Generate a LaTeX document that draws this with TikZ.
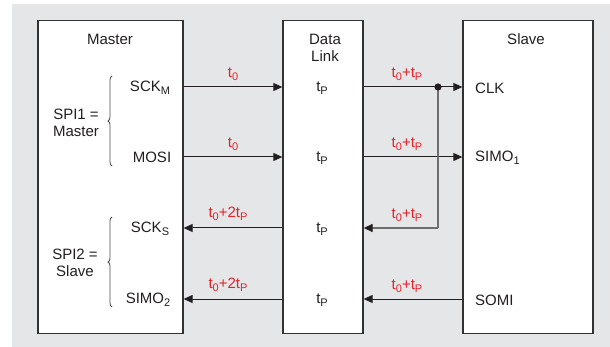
\documentclass[tikz,border=0pt]{standalone}
\usepackage{fontspec}
\setmainfont{Liberation Sans}
\usetikzlibrary{arrows.meta,decorations.pathreplacing}
\definecolor{bgray}{RGB}{229,230,232}
\definecolor{lred}{RGB}{232,32,40}
\definecolor{txt}{RGB}{35,31,32}
\definecolor{edge}{RGB}{50,50,50}
\definecolor{vline}{RGB}{110,110,110}
\newcommand\lowsb[1]{\raisebox{-0.22em}{\fontsize{11}{12}\selectfont #1}}
\tikzset{
  box/.style={draw=edge, line width=1.3pt, fill=white, inner sep=0pt, minimum width=#1},
  lbl/.style={text=txt, font=\fontsize{15}{17}\selectfont, inner sep=0pt},
  tlbl/.style={text=lred, font=\fontsize{15}{17}\selectfont, inner sep=0pt},
  arr/.style={draw=txt, line width=1pt, -{Triangle[length=9pt,width=8pt,color=txt]}},
  brc/.style={draw=txt!80, line width=0.8pt, decorate, decoration={brace, amplitude=4pt}},
}
\begin{document}
\begin{tikzpicture}[x=1pt,y=-1pt]
\useasboundingbox (0,0) rectangle (610,347);
\fill[bgray] (12,4) rectangle (611,348);
% boxes
\node[box=145pt, minimum height=313pt] (master) at (110.5,177) {};
\node[box=80pt, minimum height=313pt] (dl) at (323,177) {};
\node[box=130pt, minimum height=313pt] (slave) at (528,177) {};
% titles
\node[lbl] (mastert) at (110,39) {Master};
\node[lbl, align=center] (dlt) at (325,47.5) {Data\\Link};
\node[lbl] (slavet) at (526,39) {Slave};
% master signals
\node[lbl] (sckm) at (150,88) {SCK\lowsb{M}};
\node[lbl] (mosi) at (152,157) {MOSI};
\node[lbl] (scks) at (150,229) {SCK\lowsb{S}};
\node[lbl] (simo2) at (148,300) {SIMO\lowsb{2}};
\node[lbl, align=center] (spi1) at (76,123) {SPI1 =\\Master};
\node[lbl, align=center] (spi2) at (75,263) {SPI2 =\\Slave};
\draw[brc] (112,166) -- (112,76);
\draw[brc] (112,307) -- (112,217);
% data link tp
\node[lbl] (tp1) at (322,88) {t\lowsb{P}};
\node[lbl] (tp2) at (322,158) {t\lowsb{P}};
\node[lbl] (tp3) at (322,229) {t\lowsb{P}};
\node[lbl] (tp4) at (322,300) {t\lowsb{P}};
% slave signals
\node[lbl, anchor=west] (clk) at (475,88) {CLK};
\node[lbl, anchor=west] (simo1) at (475,158) {SIMO\lowsb{1}};
\node[lbl, anchor=west] (somi) at (475,300) {SOMI};
% timing labels
\node[tlbl] (l1) at (233,74) {t\lowsb{0}};
\node[tlbl] (l2) at (233,144) {t\lowsb{0}};
\node[tlbl] (l3) at (228,214) {t\lowsb{0}+2t\lowsb{P}};
\node[tlbl] (l4) at (228,285) {t\lowsb{0}+2t\lowsb{P}};
\node[tlbl] (r1) at (407,74) {t\lowsb{0}+t\lowsb{P}};
\node[tlbl] (r2) at (407,144) {t\lowsb{0}+t\lowsb{P}};
\node[tlbl] (r3) at (407,215) {t\lowsb{0}+t\lowsb{P}};
\node[tlbl] (r4) at (407,286) {t\lowsb{0}+t\lowsb{P}};
% connectors
\coordinate (jn) at (438,87);
\coordinate (jb) at (438,228);
\coordinate (y1) at (0,87);
\coordinate (y2) at (0,157);
\coordinate (y3) at (0,228);
\coordinate (y4) at (0,299);
\draw[arr] (master.east |- y1) -- (dl.west |- y1);
\draw[arr] (master.east |- y2) -- (dl.west |- y2);
\draw[arr] (dl.west |- y3) -- (master.east |- y3);
\draw[arr] (dl.west |- y4) -- (master.east |- y4);
\draw[arr] (dl.east |- y1) -- (slave.west |- y1);
\draw[arr] (dl.east |- y2) -- (slave.west |- y2);
\draw[arr] (slave.west |- y4) -- (dl.east |- y4);
\draw[vline, line width=1.3pt] (jn) -- (jb);
\draw[arr, draw=vline, line width=1.3pt] (jb) -- (dl.east |- jb);
\fill[txt] (jn) circle (3.6pt);
\end{tikzpicture}
\end{document}
